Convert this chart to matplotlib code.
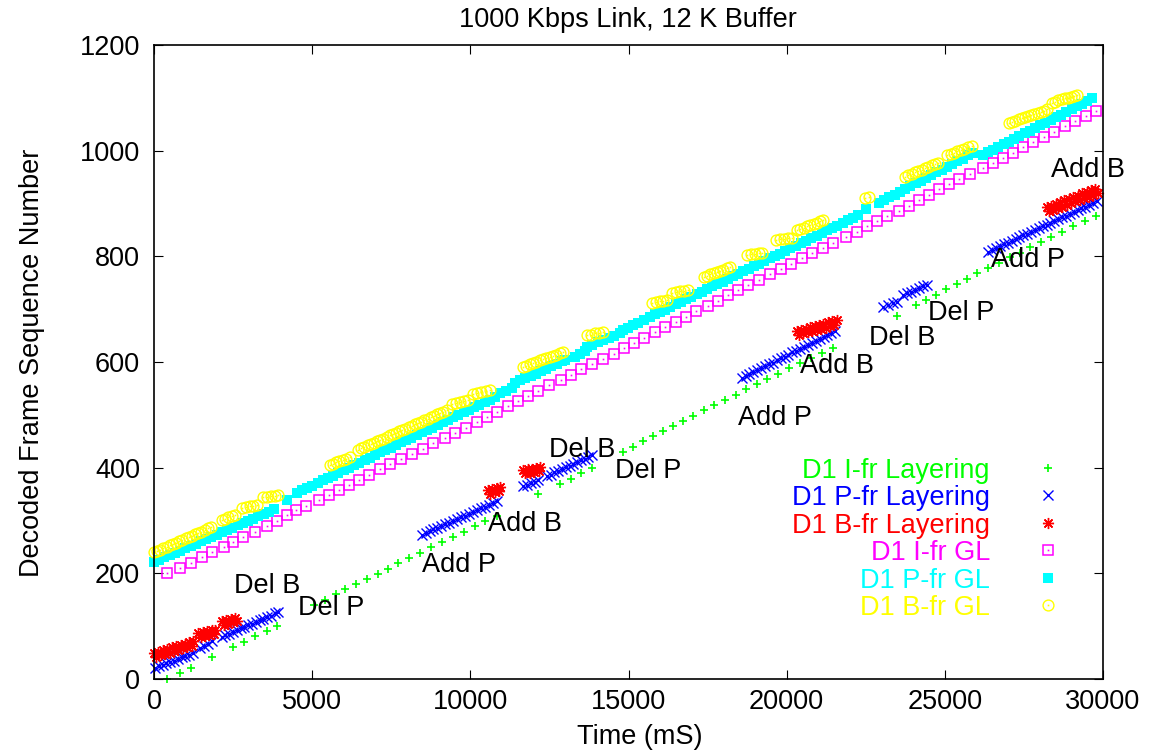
import matplotlib
matplotlib.use('Agg')
import matplotlib.pyplot as plt

plt.rcParams['font.family'] = ['Liberation Sans', 'DejaVu Sans']

# ---------------- data (time in mS, decoded frame sequence number) ----------------
# D1 I-fr Layering
i_lay_t = [411, 822, 1180, 1834, 2487, 2834, 3203, 3563, 3899,
           5069, 5406, 5743, 6038, 6386, 6724, 7070, 7398, 7725, 8062,
           8410, 8758, 9105, 9442, 9790, 10148, 10465, 10854,
           12150, 12836, 13173, 13489, 13838,
           14815, 15131, 15447, 15764, 16080, 16396, 16733, 17049, 17386, 17713,
           18060, 18388, 18714, 19051, 19388, 19736, 20085, 20423, 20760, 21108, 21477,
           23500, 24092, 24408, 24724, 25040, 25378, 25694, 26031, 26368, 26726,
           27062, 27378, 27694, 28032, 28368, 28704, 29043, 29422, 29779]
i_lay_y = [0, 11, 21, 41, 61, 70, 81, 91, 100,
           140, 150, 160, 171, 180, 190, 199, 209, 219, 229,
           239, 249, 259, 269, 279, 289, 299, 309,
           350, 369, 379, 390, 399,
           430, 440, 451, 460, 469, 479, 489, 498, 509, 519,
           529, 538, 548, 558, 568, 578, 588, 598, 608, 617, 627,
           688, 707, 718, 727, 738, 748, 757, 768, 777, 788,
           798, 807, 817, 827, 837, 846, 857, 867, 877]

# D1 P-fr Layering
p_lay_t = [30, 150, 270, 390, 510, 630, 750, 870, 990, 1110, 1230,
           1450, 1580, 1700, 1830,
           2140, 2260, 2380, 2500, 2620, 2740, 2860, 2980, 3100, 3220, 3340, 3460, 3580, 3700, 3820, 3930,
           8460, 8585, 8710, 8835, 8960, 9085, 9210, 9335, 9460, 9585, 9710, 9835, 9960, 10085,
           10210, 10335, 10460, 10585, 10710, 10830,
           11670, 11790, 11910, 12030, 12140,
           12415, 12535, 12655, 12775, 12895, 13015, 13135, 13255, 13375, 13495, 13615, 13735, 13840,
           18580, 18705, 18825, 18950, 19070, 19195, 19320, 19440, 19565, 19685, 19810, 19935, 20055,
           20180, 20300, 20425, 20550, 20670, 20795, 20915, 21040, 21165, 21285, 21410, 21530,
           23050, 23200, 23350, 23490,
           23680, 23800, 23930, 24060, 24190, 24320, 24440,
           26380, 26500, 26620, 26745, 26870, 26990, 27110, 27235, 27360, 27480, 27600, 27725, 27850,
           27970, 28090, 28215, 28340, 28460, 28580, 28705, 28830, 28950, 29070, 29195, 29320, 29440,
           29560, 29680, 29800]
p_lay_y = [21, 24, 27, 30, 32, 35, 38, 41, 43, 46, 49,
           59, 63, 67, 71,
           80, 83, 86, 89, 93, 96, 99, 102, 105, 108, 111, 114, 117, 120, 124, 127,
           273, 276, 280, 283, 286, 290, 293, 296, 300, 303, 306, 309, 313, 316,
           319, 323, 326, 329, 333, 336,
           366, 368, 371, 373, 376,
           384, 387, 391, 394, 397, 401, 404, 407, 411, 414, 417, 421, 424,
           570, 574, 577, 581, 585, 588, 592, 596, 599, 603, 607, 610, 614,
           618, 621, 625, 629, 632, 636, 640, 643, 647, 651, 654, 658,
           705, 708, 711, 714,
           727, 730, 733, 736, 740, 743, 746,
           809, 812, 816, 819, 823, 826, 829, 833, 836, 840, 843, 846, 850,
           853, 857, 860, 863, 867, 870, 874, 877, 880, 884, 887, 891, 894,
           897, 901, 904]

# D1 B-fr Layering
b_lay_t = [0, 70, 140, 210, 280, 350, 420, 490, 560, 630, 700, 770, 840, 910, 980, 1050, 1120, 1190, 1230,
           1400, 1470, 1540, 1610, 1680, 1750, 1820, 1890, 1930,
           2140, 2210, 2280, 2350, 2420, 2490, 2560, 2610,
           10560, 10630, 10700, 10770, 10840, 10910, 10940,
           11670, 11740, 11810, 11880, 11950, 12020, 12090, 12160, 12200,
           20320, 20390, 20460, 20530, 20600, 20670, 20740, 20810, 20880, 20950,
           21020, 21090, 21160, 21230, 21300, 21370, 21440, 21510, 21580,
           28220, 28290, 28360, 28430, 28500, 28570, 28640, 28710, 28780, 28850, 28920, 28990,
           29060, 29130, 29200, 29270, 29340, 29410, 29480, 29550, 29620, 29690, 29760, 29830]
b_lay_y = [49, 42, 52, 45, 54, 48, 57, 50, 60, 53, 62, 55, 65, 58, 67, 61, 70, 63, 72,
           87, 80, 89, 82, 90, 84, 92, 86, 93,
           110, 103, 112, 105, 113, 107, 115, 110,
           358, 351, 360, 353, 361, 355, 363,
           396, 389, 397, 390, 398, 392, 400, 394, 402,
           659, 652, 661, 654, 663, 657, 666, 659, 668, 661,
           670, 663, 672, 665, 675, 668, 677, 670, 679,
           893, 885, 896, 888, 899, 891, 903, 894, 906, 897, 909, 901,
           912, 904, 915, 907, 919, 910, 922, 913, 925, 917, 928, 920]

# D1 I-fr GL
i_gl_t = [400, 822, 1170, 1507, 1834, 2213, 2487, 2824, 3203, 3562,
          3899, 4215, 4483, 4806, 5217, 5543, 5837, 6153, 6481, 6807,
          7133, 7471, 7809, 8154, 8512, 8805, 9185, 9520, 9857, 10196,
          10512, 10854, 11202, 11498, 11814, 12150, 12478, 12857, 13173, 13489,
          13838, 14205, 14542, 14858, 15184, 15500, 15838, 16154, 16502, 16818,
          17135, 17514, 17821, 18156, 18453, 18788, 19136, 19474, 19811, 20137,
          20474, 20811, 21150, 21480, 21860, 22215, 22531, 22868, 23184, 23563,
          23879, 24195, 24492, 24808, 25124, 25461, 25798, 26200, 26537, 26853,
          27169, 27466, 27782, 28140, 28456, 28793, 29130, 29466, 29782]
i_gl_y = [200, 211, 220, 230, 240, 249, 259, 269, 279, 290,
          300, 310, 319, 328, 338, 348, 358, 368, 377, 387,
          397, 407, 417, 426, 436, 446, 456, 466, 476, 486,
          496, 506, 516, 526, 536, 546, 556, 566, 576, 586,
          596, 606, 616, 626, 636, 646, 656, 666, 676, 686,
          696, 706, 716, 726, 736, 746, 756, 766, 776, 786,
          796, 806, 816, 826, 837, 847, 858, 867, 877, 886,
          896, 906, 917, 927, 937, 947, 956, 967, 977, 986,
          996, 1006, 1016, 1026, 1036, 1046, 1056, 1066, 1076]

# D1 P-fr GL
p_gl_t = [0, 165, 330, 495, 660, 825, 990, 1155, 1320, 1485, 1650, 1815,
          1980, 2145, 2310, 2475, 2640, 2805, 2970, 3135, 3300, 3465, 3630, 3795,
          4195,
          4510, 4675, 4840, 5005, 5170, 5335, 5500, 5665, 5830, 5995, 6160, 6325, 6490,
          6655, 6820, 6985, 7150, 7315, 7480, 7645, 7810, 7975, 8140, 8305, 8470, 8635,
          8800, 8965, 9130, 9295, 9460, 9625, 9790, 9955, 10120, 10285, 10450, 10615, 10780,
          10940, 11130, 11320,
          11410, 11575, 11740, 11905, 12070, 12235, 12400, 12565, 12730, 12895, 13000,
          13310, 13470, 13630,
          13690, 13860, 14030, 14200, 14370, 14540, 14730,
          14830, 14990, 15150, 15300,
          15500, 15665, 15830, 15995, 16160, 16325, 16490, 16655, 16820, 16985, 17150,
          17315, 17480, 17645, 17810, 17975, 18140, 18305, 18470, 18635, 18800, 18965,
          19130, 19295, 19460, 19625, 19790, 19955, 20120, 20285, 20450, 20615, 20780,
          20945, 21110, 21275, 21440, 21605, 21770, 21935, 22100, 22265,
          22510,
          22920, 23085, 23250, 23415, 23580, 23745, 23910, 24075, 24240, 24405,
          24570, 24735, 24900, 25065, 25230, 25395, 25560, 25725, 25890,
          26200, 26365, 26530, 26695, 26860, 27025, 27190, 27355, 27520, 27685, 27850,
          28015, 28180, 28345, 28510, 28675, 28840, 29005, 29170, 29335, 29500, 29665]
p_gl_y = [222, 226, 231, 235, 239, 243, 248, 252, 256, 261, 265, 269,
          273, 278, 282, 286, 291, 295, 299, 303, 308, 312, 316, 321,
          339,
          352, 357, 362, 366, 371, 376, 381, 385, 390, 395, 400, 405, 409,
          414, 419, 424, 429, 433, 438, 443, 448, 452, 457, 462, 467, 472,
          476, 481, 486, 491, 496, 500, 505, 510, 515, 519, 524, 529, 534,
          541, 546, 551,
          560, 565, 569, 574, 578, 583, 587, 592, 596, 601, 604,
          610, 615, 620,
          629, 633, 637, 642, 646, 650, 655,
          661, 665, 670, 674,
          680, 685, 690, 694, 699, 704, 709, 714, 719, 723, 728,
          733, 738, 743, 747, 752, 757, 762, 767, 772, 776, 781,
          786, 791, 796, 800, 805, 810, 815, 820, 825, 829, 834,
          839, 844, 849, 853, 858, 863, 868, 873, 878,
          890,
          901, 906, 912, 917, 922, 927, 933, 938, 943, 948,
          954, 959, 964, 970, 975, 980, 985, 991, 996,
          992, 997, 1002, 1007, 1012, 1017, 1023, 1028, 1033, 1038, 1043,
          1048, 1053, 1058, 1063, 1068, 1074, 1079, 1084, 1089, 1094, 1099]

# D1 B-fr GL
b_gl_t = [0, 100, 200, 300, 400, 500, 600, 700, 800, 900, 1000, 1100, 1200, 1300, 1400, 1500, 1600, 1700, 1800,
          2150, 2250, 2350, 2450, 2560,
          2780, 2900, 3020, 3140, 3250,
          3450, 3570, 3690, 3810, 3920,
          5560, 5660, 5760, 5860, 5960, 6080, 6200,
          6450, 6550, 6650, 6750, 6850, 6950, 7050, 7150, 7250, 7350, 7450, 7550, 7650, 7750, 7850,
          7950, 8050, 8150, 8250, 8350, 8450, 8550, 8650, 8750, 8850, 8950, 9050, 9150, 9250,
          9420, 9540, 9660, 9800, 9930,
          10090, 10220, 10350, 10480, 10620,
          11670, 11775, 11880, 11985, 12090, 12195, 12300, 12405, 12510, 12615, 12720, 12825, 12930,
          13690, 13820, 13950, 14080, 14200,
          15740, 15860, 15980, 16100, 16220,
          16380, 16505, 16630, 16755, 16880,
          17390, 17490, 17590, 17690, 17790, 17890, 17990, 18100, 18210,
          18750, 18870, 18990, 19110, 19220,
          19670, 19795, 19920, 20045, 20170,
          20330, 20435, 20540, 20645, 20750, 20855, 20960, 21060, 21150,
          22480, 22600,
          23740, 23845, 23950, 24055, 24160, 24265, 24370, 24475, 24580, 24685, 24790,
          25070, 25180, 25290, 25400, 25510, 25620, 25730, 25860,
          27030, 27130, 27230, 27330, 27430, 27530, 27630, 27730, 27830, 27930, 28030, 28130, 28230,
          28390, 28490, 28590, 28690, 28790, 28890, 28990, 29090, 29180]
b_gl_y = [240, 243, 245, 248, 250, 253, 256, 258, 261, 264, 266, 269, 271, 274, 277, 279, 282, 285, 287,
          301, 303, 306, 308, 311,
          324, 325, 327, 328, 330,
          344, 345, 346, 347, 349,
          405, 407, 410, 412, 415, 417, 420,
          434, 437, 439, 442, 445, 447, 450, 453, 455, 458, 461, 463, 466, 469, 471,
          474, 477, 479, 482, 485, 487, 490, 493, 495, 498, 501, 503, 506, 509,
          521, 523, 524, 526, 528,
          540, 542, 543, 545, 547,
          591, 593, 596, 598, 600, 603, 605, 607, 610, 612, 614, 617, 619,
          651, 652, 654, 655, 657,
          712, 713, 715, 716, 718,
          731, 732, 734, 735, 737,
          761, 763, 766, 768, 770, 773, 775, 778, 780,
          803, 804, 805, 806, 807,
          831, 832, 833, 834, 835,
          850, 852, 854, 857, 859, 861, 863, 866, 868,
          911, 913,
          951, 954, 956, 959, 961, 964, 967, 969, 972, 974, 977,
          992, 994, 996, 999, 1001, 1003, 1006, 1008,
          1053, 1055, 1057, 1059, 1061, 1063, 1065, 1068, 1070, 1072, 1074, 1076, 1078,
          1091, 1093, 1095, 1097, 1099, 1100, 1102, 1104, 1106]

# annotations (text, x, baseline y in data units)
ann_text = ['Del B', 'Del P', 'Add P', 'Add B', 'Del B', 'Del P',
            'Add P', 'Add B', 'Del B', 'Del P', 'Add P', 'Add B']
ann_x = [3588, 5596, 9643, 11730, 13532, 15618, 19633, 21593, 23648, 25514, 27632, 29529]
ann_y = [163, 121, 203, 280, 420, 381, 481, 579, 633, 680, 780, 951]

x_ticks = [0, 5000, 10000, 15000, 20000, 25000, 30000]
y_ticks = [0, 200, 400, 600, 800, 1000, 1200]

series_labels = ['D1 I-fr Layering', 'D1 P-fr Layering', 'D1 B-fr Layering',
                 'D1 I-fr GL', 'D1 P-fr GL', 'D1 B-fr GL']
series_colors = ['#00ff00', '#0000ff', '#ff0000', '#ff00ff', '#00ffff', '#ffff00']

FS = 19.5

# ---------------- figure ----------------
W, H = 1149, 751
fig = plt.figure(figsize=(W / 100, H / 100), dpi=100)
ax = fig.add_axes([154 / W, 72 / H, 949 / W, 634 / H])

styles = [
    dict(marker='+', ms=5.5, mew=1.2, color=series_colors[0]),
    dict(marker='x', ms=7, mew=1.0, color=series_colors[1]),
    dict(marker=(8, 2, 0), ms=8, mew=1.0, color=series_colors[2]),
    dict(marker='s', ms=7, mew=1.1, mfc='none', mec=series_colors[3]),
    dict(marker='s', ms=7.5, mew=0, color=series_colors[4]),
    dict(marker='o', ms=7.8, mew=1.0, mfc='none', mec=series_colors[5]),
]
data = [(i_lay_t, i_lay_y), (p_lay_t, p_lay_y), (b_lay_t, b_lay_y),
        (i_gl_t, i_gl_y), (p_gl_t, p_gl_y), (b_gl_t, b_gl_y)]

for k, ((tx, ty), st) in enumerate(zip(data, styles)):
    ax.plot(tx, ty, ls='none', clip_on=False, zorder=2 + 0.01 * k, **st)
    if k in (3, 5):  # centre dot of gnuplot open box / circle
        ax.plot(tx, ty, ls='none', marker='s', ms=1.2, mew=0,
                color=series_colors[k], clip_on=False, zorder=2 + 0.01 * k)

for s, x, y in zip(ann_text, ann_x, ann_y):
    ax.text(x, y, s, ha='center', va='baseline', fontsize=FS, color='black')

ax.set_xlim(0, 30000)
ax.set_ylim(0, 1200)
ax.set_xticks(x_ticks)
ax.set_xticklabels([str(v) for v in x_ticks])
ax.set_yticks(y_ticks)
ax.set_yticklabels([str(v) for v in y_ticks])
ax.tick_params(axis='both', direction='in', length=6.5, width=0.8,
               top=True, right=True, labelsize=FS)
ax.tick_params(axis='x', pad=7)
ax.tick_params(axis='y', pad=10)
for sp in ax.spines.values():
    sp.set_linewidth(1.2)

ax.set_xlabel('Time (mS)', fontsize=FS)
ax.xaxis.set_label_coords((640 - 154) / 949, (679 - 737) / 634)
ax.xaxis.label.set_va('center')
ax.set_ylabel('Decoded Frame Sequence Number', fontsize=FS)
ax.yaxis.set_label_coords((32 - 154) / 949, (679 - 363) / 634)
ax.yaxis.label.set_va('center')

fig.text(628 / W, 1 - 20 / H, '1000 Kbps Link, 12 K Buffer', ha='center', va='center',
         fontsize=FS)

# key (gnuplot style: right-aligned coloured text, sample marker at right)
text_x = (990 - 154) / 949
mark_x = (1048 - 154) / 949
for i, (lab, col) in enumerate(zip(series_labels, series_colors)):
    yc = (679 - (468 + 27.4 * i)) / 634
    ax.text(text_x, yc - 10 / 634, lab, transform=ax.transAxes, ha='right',
            va='baseline', fontsize=FS, color=col)
    ax.plot([mark_x], [yc], transform=ax.transAxes, ls='none', clip_on=False, **styles[i])
    if i in (3, 5):
        ax.plot([mark_x], [yc], transform=ax.transAxes, ls='none', marker='s', ms=1.2,
                mew=0, color=col, clip_on=False)

fig.savefig('out.png', dpi=100)
